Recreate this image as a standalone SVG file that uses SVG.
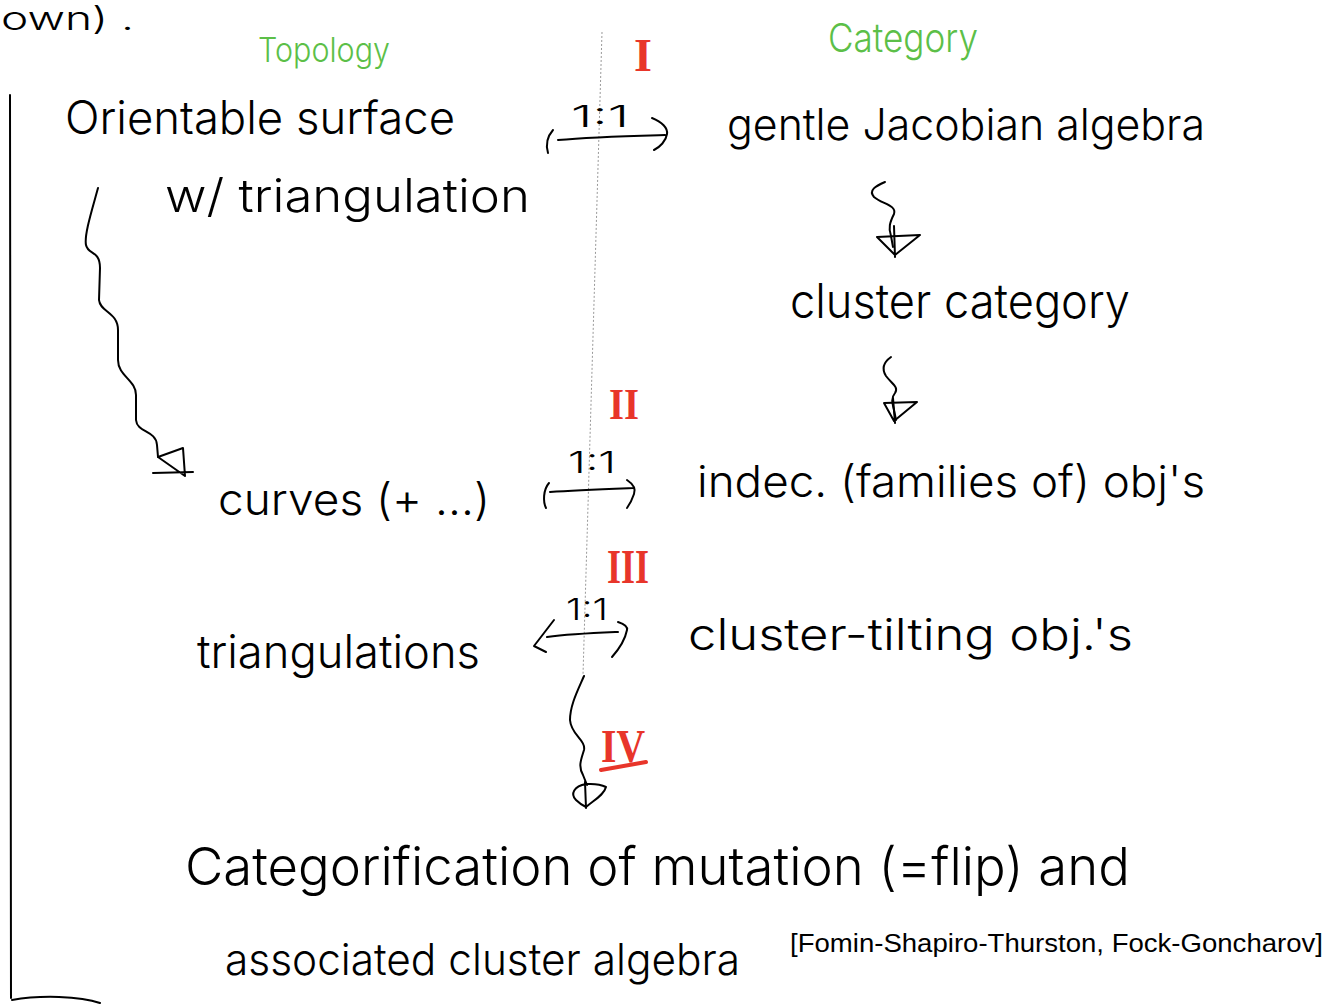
<svg xmlns="http://www.w3.org/2000/svg" width="1327" height="1004" viewBox="0 0 1327 1004">
<style>
.hw{font-family:Inter,"Liberation Sans","DejaVu Sans",sans-serif;font-weight:300;fill:#000}
.gr{font-family:Inter,"Liberation Sans",sans-serif;font-weight:300;fill:#5cbf48}
.rn{font-family:"Liberation Serif","DejaVu Serif",serif;font-weight:bold;fill:#e8352a;text-anchor:middle}
.ty{font-family:"Liberation Sans",Arial,sans-serif;fill:#000}
.ln{fill:none;stroke:#000;stroke-width:2;stroke-linecap:round;stroke-linejoin:round}
.dot{fill:none;stroke:#999;stroke-width:1;stroke-dasharray:2 2}
.red{fill:none;stroke:#e8352a;stroke-width:4;stroke-linecap:round}
.lbl{font-family:Inter,"Liberation Sans",sans-serif;font-weight:300;fill:#000;font-size:30px;text-anchor:middle}
</style>

<g id="frame">
<text class="hw" x="1" y="30" font-size="32" textLength="133" lengthAdjust="spacingAndGlyphs">own) .</text>
<path class="ln" d="M10,95 L11,998 M12,1000 C40,995 80,996 100,1003"/>
<path class="dot" d="M602,32 L583,675"/>
</g>

<g id="headers">
<text class="gr" x="258" y="62" font-size="34" textLength="132" lengthAdjust="spacingAndGlyphs">Topology</text>
<text class="gr" x="828" y="52" font-size="40" textLength="150" lengthAdjust="spacingAndGlyphs">Category</text>
</g>

<g id="node-surface">
<text class="hw" x="65" y="134" font-size="46" textLength="390" lengthAdjust="spacingAndGlyphs">Orientable  surface</text>
<text class="hw" x="165" y="212" font-size="46" textLength="365" lengthAdjust="spacingAndGlyphs">w/  triangulation</text>
</g>
<g id="node-gentle">
<text class="hw" x="727" y="140" font-size="44" textLength="478" lengthAdjust="spacingAndGlyphs">gentle  Jacobian  algebra</text>
</g>
<g id="node-clustercat">
<text class="hw" x="790" y="318" font-size="48" textLength="340" lengthAdjust="spacingAndGlyphs">cluster  category</text>
</g>
<g id="node-indec">
<text class="hw" x="697" y="497" font-size="44" textLength="508" lengthAdjust="spacingAndGlyphs">indec. (families of) obj's</text>
</g>
<g id="node-curves">
<text class="hw" x="218" y="515" font-size="44" textLength="272" lengthAdjust="spacingAndGlyphs">curves (+ ...)</text>
</g>
<g id="node-triangulations">
<text class="hw" x="197" y="668" font-size="46" textLength="283" lengthAdjust="spacingAndGlyphs">triangulations</text>
</g>
<g id="node-tilting">
<text class="hw" x="688" y="650" font-size="44" textLength="445" lengthAdjust="spacingAndGlyphs">cluster-tilting  obj.'s</text>
</g>
<g id="node-categorification">
<text class="hw" x="185" y="885" font-size="52" textLength="945" lengthAdjust="spacingAndGlyphs">Categorification  of  mutation  (=flip)  and</text>
<text class="hw" x="225" y="975" font-size="44" textLength="515" lengthAdjust="spacingAndGlyphs">associated  cluster  algebra</text>
</g>
<g id="citation">
<text class="ty" x="790" y="952" font-size="26" textLength="533" lengthAdjust="spacingAndGlyphs">[Fomin-Shapiro-Thurston, Fock-Goncharov]</text>
</g>

<g id="numerals">
<text class="rn" x="643" y="71" font-size="46">I</text>
<text class="rn" x="624" y="419" font-size="44" textLength="30" lengthAdjust="spacingAndGlyphs">II</text>
<text class="rn" x="628" y="583" font-size="48" textLength="42" lengthAdjust="spacingAndGlyphs">III</text>
<text class="rn" x="623" y="762" font-size="46" textLength="44" lengthAdjust="spacingAndGlyphs">IV</text>
<path class="red" d="M601,770 L646,762"/>
</g>

<g id="connectors">
<text class="lbl" x="600" y="127" textLength="58" lengthAdjust="spacingAndGlyphs">1:1</text>
<path class="ln" d="M558,140 C590,137 630,136 665,135 M553,130 C546,138 546,146 548,153 M652,118 C662,122 668,128 667,134 C666,141 660,147 654,150"/>
<text class="lbl" x="592" y="473" textLength="48" lengthAdjust="spacingAndGlyphs">1:1</text>
<path class="ln" d="M550,492 C575,490 605,489 633,488 M549,483 C543,490 543,502 546,508 M627,480 C633,484 636,489 634,494 C632,500 630,504 627,508"/>
<text class="lbl" x="587" y="620" textLength="42" lengthAdjust="spacingAndGlyphs">1:1</text>
<path class="ln" d="M547,637 C570,634 595,633 618,632 M554,620 L534,646 L546,652 M618,622 C624,624 628,626 627,630 C625,640 620,648 612,657"/>
<path class="ln" d="M98,188 C92,210 84,235 86,245 C88,255 100,250 100,268 L99,300 C100,312 118,312 118,330 L118,360 C118,376 136,380 136,395 L136,420 C137,433 156,430 157,445 L158,457"/>
<path class="ln" d="M158,457 L183,448 L185,476 Z M153,473 L193,472"/>
<path class="ln" d="M885,182 C876,186 868,190 874,197 C882,204 897,205 894,214 C890,222 888,228 891,236 L893,247"/>
<path class="ln" d="M877,237 L920,235 L895,255 Z M894,226 L895,257"/>
<path class="ln" d="M891,357 C884,362 881,368 886,376 C892,384 899,387 895,393 C891,398 892,402 894,410 L896,420"/>
<path class="ln" d="M884,403 L917,402 L894,421 Z M893,398 L895,423"/>
<path class="ln" d="M584,676 C578,690 570,705 570,720 C571,735 586,740 584,750 C581,760 578,766 583,775 L587,785"/>
<path class="ln" d="M586,784 C574,786 570,794 576,800 C580,804 584,806 586,807 C594,800 604,795 606,787 C598,783 592,784 586,784 M585,782 L586,808"/>
</g>
</svg>
